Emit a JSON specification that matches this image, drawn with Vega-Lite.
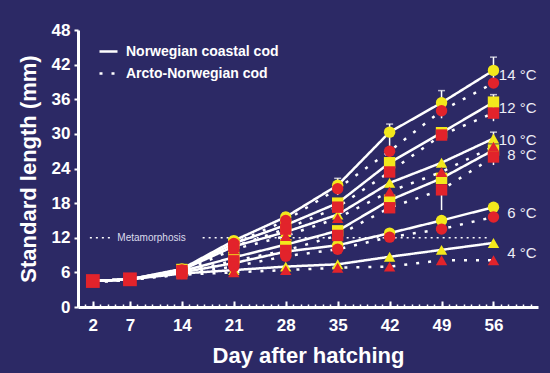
{
  "$schema": "https://vega.github.io/schema/vega-lite/v6.json",
  "autosize": {"type": "none"},
  "width": 460,
  "height": 277,
  "padding": {"left": 78, "top": 30, "right": 12, "bottom": 66},
  "background": "#2c2965",
  "config": {
    "view": {"stroke": null},
    "font": "Liberation Sans",
    "axis": {"grid": false},
    "axisY": {
      "domainColor": "white", "domainWidth": 3,
      "tickColor": "white", "tickSize": 4, "tickWidth": 2,
      "labelColor": "white", "labelFontSize": 17, "labelFontWeight": "bold",
      "labelPadding": 4, "labelOverlap": false,
      "titleColor": "white", "titleFontSize": 22, "titleFontWeight": "bold",
      "titlePadding": 11
    }
  },
  "datasets": {
    "pts": [
      {"pop": "Norwegian coastal cod", "temp": "14", "day": 2, "len": 4.5},
      {"pop": "Norwegian coastal cod", "temp": "14", "day": 7, "len": 4.8},
      {"pop": "Norwegian coastal cod", "temp": "14", "day": 14, "len": 6.6},
      {"pop": "Norwegian coastal cod", "temp": "14", "day": 21, "len": 11.5},
      {"pop": "Norwegian coastal cod", "temp": "14", "day": 28, "len": 15.6},
      {"pop": "Norwegian coastal cod", "temp": "14", "day": 35, "len": 21.1},
      {"pop": "Norwegian coastal cod", "temp": "14", "day": 42, "len": 30.3},
      {"pop": "Norwegian coastal cod", "temp": "14", "day": 49, "len": 35.4},
      {"pop": "Norwegian coastal cod", "temp": "14", "day": 56, "len": 41},
      {"pop": "Norwegian coastal cod", "temp": "12", "day": 2, "len": 4.5},
      {"pop": "Norwegian coastal cod", "temp": "12", "day": 7, "len": 4.8},
      {"pop": "Norwegian coastal cod", "temp": "12", "day": 14, "len": 6.5},
      {"pop": "Norwegian coastal cod", "temp": "12", "day": 21, "len": 11},
      {"pop": "Norwegian coastal cod", "temp": "12", "day": 28, "len": 14.2},
      {"pop": "Norwegian coastal cod", "temp": "12", "day": 35, "len": 18},
      {"pop": "Norwegian coastal cod", "temp": "12", "day": 42, "len": 25},
      {"pop": "Norwegian coastal cod", "temp": "12", "day": 49, "len": 30.2},
      {"pop": "Norwegian coastal cod", "temp": "12", "day": 56, "len": 35.5},
      {"pop": "Norwegian coastal cod", "temp": "10", "day": 2, "len": 4.5},
      {"pop": "Norwegian coastal cod", "temp": "10", "day": 7, "len": 4.8},
      {"pop": "Norwegian coastal cod", "temp": "10", "day": 14, "len": 6.4},
      {"pop": "Norwegian coastal cod", "temp": "10", "day": 21, "len": 10.5},
      {"pop": "Norwegian coastal cod", "temp": "10", "day": 28, "len": 13},
      {"pop": "Norwegian coastal cod", "temp": "10", "day": 35, "len": 16},
      {"pop": "Norwegian coastal cod", "temp": "10", "day": 42, "len": 21.5},
      {"pop": "Norwegian coastal cod", "temp": "10", "day": 49, "len": 25},
      {"pop": "Norwegian coastal cod", "temp": "10", "day": 56, "len": 29.2},
      {"pop": "Norwegian coastal cod", "temp": "8", "day": 2, "len": 4.5},
      {"pop": "Norwegian coastal cod", "temp": "8", "day": 7, "len": 4.8},
      {"pop": "Norwegian coastal cod", "temp": "8", "day": 14, "len": 6.2},
      {"pop": "Norwegian coastal cod", "temp": "8", "day": 21, "len": 8.6},
      {"pop": "Norwegian coastal cod", "temp": "8", "day": 28, "len": 10.8},
      {"pop": "Norwegian coastal cod", "temp": "8", "day": 35, "len": 13.2},
      {"pop": "Norwegian coastal cod", "temp": "8", "day": 42, "len": 18.5},
      {"pop": "Norwegian coastal cod", "temp": "8", "day": 49, "len": 22.3},
      {"pop": "Norwegian coastal cod", "temp": "8", "day": 56, "len": 27.2},
      {"pop": "Norwegian coastal cod", "temp": "6", "day": 2, "len": 4.5},
      {"pop": "Norwegian coastal cod", "temp": "6", "day": 7, "len": 4.8},
      {"pop": "Norwegian coastal cod", "temp": "6", "day": 14, "len": 6},
      {"pop": "Norwegian coastal cod", "temp": "6", "day": 21, "len": 7.6},
      {"pop": "Norwegian coastal cod", "temp": "6", "day": 28, "len": 9.6},
      {"pop": "Norwegian coastal cod", "temp": "6", "day": 35, "len": 10.7},
      {"pop": "Norwegian coastal cod", "temp": "6", "day": 42, "len": 12.8},
      {"pop": "Norwegian coastal cod", "temp": "6", "day": 49, "len": 15},
      {"pop": "Norwegian coastal cod", "temp": "6", "day": 56, "len": 17.3},
      {"pop": "Norwegian coastal cod", "temp": "4", "day": 2, "len": 4.5},
      {"pop": "Norwegian coastal cod", "temp": "4", "day": 7, "len": 4.8},
      {"pop": "Norwegian coastal cod", "temp": "4", "day": 14, "len": 5.8},
      {"pop": "Norwegian coastal cod", "temp": "4", "day": 21, "len": 6.4},
      {"pop": "Norwegian coastal cod", "temp": "4", "day": 28, "len": 7},
      {"pop": "Norwegian coastal cod", "temp": "4", "day": 35, "len": 7.4},
      {"pop": "Norwegian coastal cod", "temp": "4", "day": 42, "len": 8.7},
      {"pop": "Norwegian coastal cod", "temp": "4", "day": 49, "len": 9.9},
      {"pop": "Norwegian coastal cod", "temp": "4", "day": 56, "len": 11.1},
      {"pop": "Arcto-Norwegian cod", "temp": "14", "day": 2, "len": 4.4},
      {"pop": "Arcto-Norwegian cod", "temp": "14", "day": 7, "len": 4.7},
      {"pop": "Arcto-Norwegian cod", "temp": "14", "day": 14, "len": 6.4},
      {"pop": "Arcto-Norwegian cod", "temp": "14", "day": 21, "len": 11},
      {"pop": "Arcto-Norwegian cod", "temp": "14", "day": 28, "len": 15},
      {"pop": "Arcto-Norwegian cod", "temp": "14", "day": 35, "len": 20.5},
      {"pop": "Arcto-Norwegian cod", "temp": "14", "day": 42, "len": 27},
      {"pop": "Arcto-Norwegian cod", "temp": "14", "day": 49, "len": 34},
      {"pop": "Arcto-Norwegian cod", "temp": "14", "day": 56, "len": 38.8},
      {"pop": "Arcto-Norwegian cod", "temp": "12", "day": 2, "len": 4.4},
      {"pop": "Arcto-Norwegian cod", "temp": "12", "day": 7, "len": 4.7},
      {"pop": "Arcto-Norwegian cod", "temp": "12", "day": 14, "len": 6.3},
      {"pop": "Arcto-Norwegian cod", "temp": "12", "day": 21, "len": 10.5},
      {"pop": "Arcto-Norwegian cod", "temp": "12", "day": 28, "len": 13.5},
      {"pop": "Arcto-Norwegian cod", "temp": "12", "day": 35, "len": 17.3},
      {"pop": "Arcto-Norwegian cod", "temp": "12", "day": 42, "len": 23.4},
      {"pop": "Arcto-Norwegian cod", "temp": "12", "day": 49, "len": 29.8},
      {"pop": "Arcto-Norwegian cod", "temp": "12", "day": 56, "len": 33.6},
      {"pop": "Arcto-Norwegian cod", "temp": "10", "day": 2, "len": 4.4},
      {"pop": "Arcto-Norwegian cod", "temp": "10", "day": 7, "len": 4.7},
      {"pop": "Arcto-Norwegian cod", "temp": "10", "day": 14, "len": 6.1},
      {"pop": "Arcto-Norwegian cod", "temp": "10", "day": 21, "len": 10},
      {"pop": "Arcto-Norwegian cod", "temp": "10", "day": 28, "len": 12.3},
      {"pop": "Arcto-Norwegian cod", "temp": "10", "day": 35, "len": 15.4},
      {"pop": "Arcto-Norwegian cod", "temp": "10", "day": 42, "len": 20},
      {"pop": "Arcto-Norwegian cod", "temp": "10", "day": 49, "len": 23.4},
      {"pop": "Arcto-Norwegian cod", "temp": "10", "day": 56, "len": 27.8},
      {"pop": "Arcto-Norwegian cod", "temp": "8", "day": 2, "len": 4.4},
      {"pop": "Arcto-Norwegian cod", "temp": "8", "day": 7, "len": 4.7},
      {"pop": "Arcto-Norwegian cod", "temp": "8", "day": 14, "len": 6},
      {"pop": "Arcto-Norwegian cod", "temp": "8", "day": 21, "len": 8},
      {"pop": "Arcto-Norwegian cod", "temp": "8", "day": 28, "len": 9.8},
      {"pop": "Arcto-Norwegian cod", "temp": "8", "day": 35, "len": 12.4},
      {"pop": "Arcto-Norwegian cod", "temp": "8", "day": 42, "len": 17.2},
      {"pop": "Arcto-Norwegian cod", "temp": "8", "day": 49, "len": 20.3},
      {"pop": "Arcto-Norwegian cod", "temp": "8", "day": 56, "len": 26},
      {"pop": "Arcto-Norwegian cod", "temp": "6", "day": 2, "len": 4.4},
      {"pop": "Arcto-Norwegian cod", "temp": "6", "day": 7, "len": 4.7},
      {"pop": "Arcto-Norwegian cod", "temp": "6", "day": 14, "len": 5.8},
      {"pop": "Arcto-Norwegian cod", "temp": "6", "day": 21, "len": 7},
      {"pop": "Arcto-Norwegian cod", "temp": "6", "day": 28, "len": 8.8},
      {"pop": "Arcto-Norwegian cod", "temp": "6", "day": 35, "len": 10},
      {"pop": "Arcto-Norwegian cod", "temp": "6", "day": 42, "len": 12.1},
      {"pop": "Arcto-Norwegian cod", "temp": "6", "day": 49, "len": 13.5},
      {"pop": "Arcto-Norwegian cod", "temp": "6", "day": 56, "len": 15.6},
      {"pop": "Arcto-Norwegian cod", "temp": "4", "day": 2, "len": 4.4},
      {"pop": "Arcto-Norwegian cod", "temp": "4", "day": 7, "len": 4.7},
      {"pop": "Arcto-Norwegian cod", "temp": "4", "day": 14, "len": 5.6},
      {"pop": "Arcto-Norwegian cod", "temp": "4", "day": 21, "len": 6},
      {"pop": "Arcto-Norwegian cod", "temp": "4", "day": 28, "len": 6.4},
      {"pop": "Arcto-Norwegian cod", "temp": "4", "day": 35, "len": 6.8},
      {"pop": "Arcto-Norwegian cod", "temp": "4", "day": 42, "len": 7},
      {"pop": "Arcto-Norwegian cod", "temp": "4", "day": 49, "len": 8.1},
      {"pop": "Arcto-Norwegian cod", "temp": "4", "day": 56, "len": 8.1}
    ],
    "start": [
      {"day": 2, "len": 4.5},
      {"day": 7, "len": 4.8}
    ],
    "err": [
      {"day": 56, "lo": 39.5, "hi": 43.3},
      {"day": 49, "lo": 32.7, "hi": 37.5},
      {"day": 42, "lo": 26, "hi": 31.7},
      {"day": 35, "lo": 19.4, "hi": 22.3},
      {"day": 28, "lo": 14.5, "hi": 16.3},
      {"day": 21, "lo": 10.2, "hi": 12.2},
      {"day": 56, "lo": 32.2, "hi": 36.8},
      {"day": 56, "lo": 24.6, "hi": 30.3},
      {"day": 49, "lo": 16.8, "hi": 21},
      {"day": 35, "lo": 9.5, "hi": 13.2}
    ],
    "meta": [
      {"x": 1.6, "x2": 4.4, "y": 12},
      {"x": 16.8, "x2": 55.5, "y": 12}
    ],
    "metaText": [
      {"day": 5.3, "len": 12, "txt": "Metamorphosis"}
    ],
    "temps": [
      {"day": 61.8, "len": 40.2, "txt": "14 °C"},
      {"day": 61.8, "len": 34.5, "txt": "12 °C"},
      {"day": 61.8, "len": 29, "txt": "10 °C"},
      {"day": 61.8, "len": 26.3, "txt": "8 °C"},
      {"day": 61.8, "len": 16.3, "txt": "6 °C"},
      {"day": 61.8, "len": 9.4, "txt": "4 °C"}
    ],
    "minor": [
      {"day": 0}
    ]
  },
  "layer": [
    {
      "data": {"name": "pts"},
      "mark": {"type": "line", "color": "white", "strokeWidth": 2.5},
      "encoding": {
        "x": {
          "field": "day", "type": "quantitative",
          "scale": {"domain": [0, 62], "nice": false, "zero": false},
          "axis": {
            "values": [2, 7, 14, 21, 28, 35, 42, 49, 56],
            "title": "Day after hatching",
            "domainColor": "white", "domainWidth": 3,
            "tickColor": "white", "tickSize": -6, "tickWidth": 2,
            "labelColor": "white", "labelFontSize": 17, "labelFontWeight": "bold",
            "labelPadding": 16, "labelOverlap": false,
            "titleColor": "white", "titleFontSize": 22, "titleFontWeight": "bold",
            "titlePadding": 12
          }
        },
        "y": {
          "field": "len", "type": "quantitative",
          "scale": {"domain": [0, 48], "nice": false},
          "axis": {
            "values": [0, 6, 12, 18, 24, 30, 36, 42, 48],
            "title": "Standard length (mm)",
            "labelOverlap": false
          }
        },
        "detail": {"field": "temp", "type": "nominal"},
        "strokeDash": {
          "field": "pop", "type": "nominal",
          "scale": {"domain": ["Norwegian coastal cod", "Arcto-Norwegian cod"], "range": [[1, 0], [3, 9]]},
          "legend": {
            "title": null, "orient": "none", "legendX": 20, "legendY": 11,
            "symbolType": "stroke", "symbolStrokeColor": "white", "symbolStrokeWidth": 2.5,
            "symbolSize": 324, "labelColor": "white", "labelFontSize": 14,
            "labelFontWeight": "bold", "labelOffset": 7, "rowPadding": 4
          }
        }
      }
    },
    {
      "data": {"name": "meta"},
      "mark": {"type": "rule", "color": "white", "strokeWidth": 1.5, "strokeDash": [2, 4]},
      "encoding": {
        "x": {"field": "x", "type": "quantitative", "axis": null},
        "x2": {"field": "x2"},
        "y": {"field": "y", "type": "quantitative", "axis": {"values": [0, 6, 12, 18, 24, 30, 36, 42, 48], "title": "Standard length (mm)"}}
      }
    },
    {
      "data": {"name": "metaText"},
      "mark": {"type": "text", "color": "#dcdcec", "fontSize": 10, "align": "left", "baseline": "middle"},
      "encoding": {
        "x": {"field": "day", "type": "quantitative", "axis": null},
        "y": {"field": "len", "type": "quantitative", "axis": {"values": [0, 6, 12, 18, 24, 30, 36, 42, 48], "title": "Standard length (mm)"}},
        "text": {"field": "txt"}
      }
    },
    {
      "data": {"name": "err"},
      "mark": {"type": "rule", "color": "white", "strokeWidth": 1.5},
      "encoding": {
        "x": {"field": "day", "type": "quantitative", "axis": null},
        "y": {"field": "lo", "type": "quantitative", "axis": {"values": [0, 6, 12, 18, 24, 30, 36, 42, 48], "title": "Standard length (mm)"}},
        "y2": {"field": "hi"}
      }
    },
    {
      "data": {"name": "err"},
      "mark": {"type": "tick", "color": "white", "orient": "horizontal", "size": 7, "thickness": 1.5},
      "encoding": {
        "x": {"field": "day", "type": "quantitative", "axis": null},
        "y": {"field": "hi", "type": "quantitative", "axis": {"values": [0, 6, 12, 18, 24, 30, 36, 42, 48], "title": "Standard length (mm)"}}
      }
    },
    {
      "data": {"name": "pts"},
      "transform": [{"filter": "datum.day >= 14 && datum.pop == 'Norwegian coastal cod'"}],
      "mark": {"type": "point", "filled": true, "opacity": 1, "color": "#f3e81c", "size": 130},
      "encoding": {
        "x": {"field": "day", "type": "quantitative", "axis": null},
        "y": {"field": "len", "type": "quantitative", "axis": {"values": [0, 6, 12, 18, 24, 30, 36, 42, 48], "title": "Standard length (mm)"}},
        "shape": {
          "field": "temp", "type": "nominal", "legend": null,
          "scale": {"domain": ["4", "6", "8", "10", "12", "14"], "range": ["triangle-up", "circle", "square", "triangle-up", "square", "circle"]}
        }
      }
    },
    {
      "data": {"name": "pts"},
      "transform": [{"filter": "datum.day >= 14 && datum.pop == 'Arcto-Norwegian cod'"}],
      "mark": {"type": "point", "filled": true, "opacity": 1, "color": "#e2232b", "size": 130},
      "encoding": {
        "x": {"field": "day", "type": "quantitative", "axis": null},
        "y": {"field": "len", "type": "quantitative", "axis": {"values": [0, 6, 12, 18, 24, 30, 36, 42, 48], "title": "Standard length (mm)"}},
        "shape": {
          "field": "temp", "type": "nominal", "legend": null,
          "scale": {"domain": ["4", "6", "8", "10", "12", "14"], "range": ["triangle-up", "circle", "square", "triangle-up", "square", "circle"]}
        }
      }
    },
    {
      "data": {"name": "start"},
      "mark": {"type": "square", "filled": true, "opacity": 1, "color": "#e2232b", "size": 190},
      "encoding": {
        "x": {"field": "day", "type": "quantitative", "axis": null},
        "y": {"field": "len", "type": "quantitative", "axis": {"values": [0, 6, 12, 18, 24, 30, 36, 42, 48], "title": "Standard length (mm)"}}
      }
    },
    {
      "data": {"name": "temps"},
      "mark": {"type": "text", "color": "#eeeef6", "fontSize": 15, "align": "right", "baseline": "middle"},
      "encoding": {
        "x": {"field": "day", "type": "quantitative", "axis": null},
        "y": {"field": "len", "type": "quantitative", "axis": {"values": [0, 6, 12, 18, 24, 30, 36, 42, 48], "title": "Standard length (mm)"}},
        "text": {"field": "txt"}
      }
    },
    {
      "data": {"name": "minor"},
      "mark": {"type": "point", "opacity": 0},
      "encoding": {
        "x": {
          "field": "day", "type": "quantitative",
          "axis": {
            "orient": "bottom",
            "values": [1,2,3,4,5,6,7,8,9,10,11,12,13,14,15,16,17,18,19,20,21,22,23,24,25,26,27,28,29,30,31,32,33,34,35,36,37,38,39,40,41,42,43,44,45,46,47,48,49,50,51,52,53,54,55,56,57,58,59,60,61],
            "labels": false, "domain": false, "title": null,
            "tickColor": "white", "tickSize": -3, "tickWidth": 1.5
          }
        }
      }
    }
  ],
  "resolve": {"axis": {"x": "independent"}}
}
